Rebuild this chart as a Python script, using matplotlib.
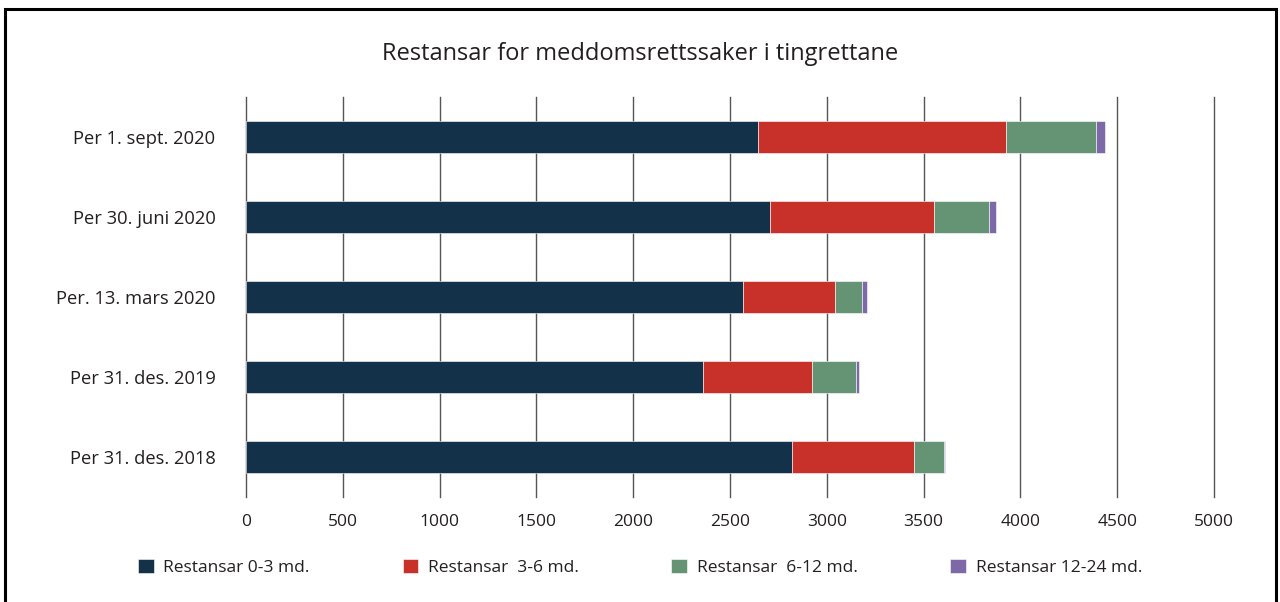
import matplotlib
matplotlib.use("Agg")
import matplotlib.pyplot as plt
from matplotlib.patches import Rectangle

plt.rcParams['font.family'] = ['Open Sans', 'DejaVu Sans']

# Data
dates = ["Per 1. sept. 2020", "Per 30. juni 2020", "Per. 13. mars 2020",
         "Per 31. des. 2019", "Per 31. des. 2018"]
r_0_3 = [2646, 2707, 2569, 2362, 2822]
r_3_6 = [1280, 847, 475, 562, 630]
r_6_12 = [464, 285, 136, 225, 152]
r_12_24 = [45, 35, 28, 19, 8]

series = [
    ("Restansar 0-3 md.", r_0_3, "#13324a"),
    ("Restansar  3-6 md.", r_3_6, "#c8312a"),
    ("Restansar  6-12 md.", r_6_12, "#649474"),
    ("Restansar 12-24 md.", r_12_24, "#7d69a8"),
]

fig = plt.figure(figsize=(12.8, 6.02), dpi=100)
ax = fig.add_axes([0.1922, 0.1744, 0.7562, 0.6645])

y = list(range(len(dates)))
left = [0] * len(dates)
handles = []
for name, vals, col in series:
    b = ax.barh(y, vals, left=left, height=0.4, color=col,
                edgecolor="white", linewidth=0.4, label=name, zorder=3)
    handles.append(b)
    left = [l + v for l, v in zip(left, vals)]

ax.set_xlim(0, 5000)
ax.set_ylim(4.5, -0.5)
ax.set_xticks(range(0, 5001, 500))
ax.set_yticks(y)
ax.set_yticklabels(dates)
ax.grid(axis="x", color="#555555", linewidth=1.0, zorder=0)
for gl in ax.get_xgridlines():
    gl.set_clip_on(False)
for s in ax.spines.values():
    s.set_visible(False)
ax.tick_params(axis="both", length=0, colors="#231f20")
ax.tick_params(axis="x", pad=12, labelsize=12.5)
ax.tick_params(axis="y", pad=22, labelsize=13.2)

fig.text(0.5, 0.91, "Restansar for meddomsrettssaker i tingrettane",
         ha="center", va="center", fontsize=17, color="#231f20")

leg = fig.legend(handles=handles, loc="center", bbox_to_anchor=(0.5, 0.057),
                 ncol=4, frameon=False, fontsize=12.5, handlelength=0.9,
                 handleheight=0.9, handletextpad=0.55, columnspacing=5.35)
for t in leg.get_texts():
    t.set_color("#231f20")

# outer frame
fig.patches.append(Rectangle((0.004, -0.02), 0.9925, 1.005, transform=fig.transFigure,
                             fill=False, edgecolor="black", linewidth=2.2))

fig.savefig("out.png", dpi=100)
